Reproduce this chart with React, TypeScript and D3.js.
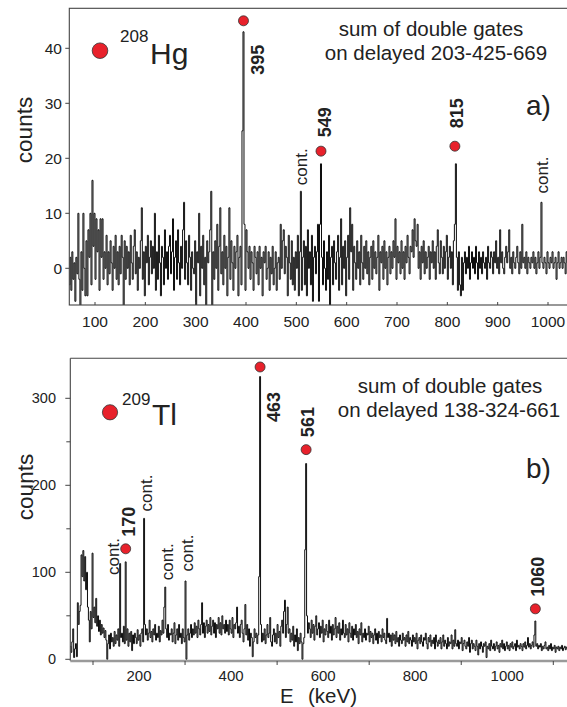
import React from 'react';
import * as d3 from 'd3';

// spectrum a) 208Hg, 2 keV bins starting at 48 keV (rows of 10 bins = 20 keV)
const A_START = 48;
const A_BIN = 2;
const countsA = [
	[-3, 2, -4, 3, -2, 1, -6, 2, -1, 10],
	[-2, -7, 3, -4, 10, 0, -5, 5, -5, 7],
	[2, 10, -3, 16, 4, 10, -2, 9, 3, 7],
	[-4, 9, 2, 9, -2, 3, 0, 6, -3, 3],
	[-1, 5, 1, -4, 4, 0, 6, -2, 3, -3],
	[4, -1, 6, 2, -7, 5, -2, 4, 0, 3],
	[-3, 6, 1, -2, 4, 7, -1, 3, -4, 2],
	[0, 5, 11, -2, 3, -5, 4, 1, 6, -3],
	[2, 5, -1, 4, 0, 10, -4, 3, -2, 6],
	[1, -5, 4, 2, -3, 7, 0, 3, -2, 4],
	[6, -1, 3, 9, -4, 2, 5, -2, 7, 1],
	[-3, 4, 0, 7, 12, -2, 5, 1, -3, 6],
	[2, -4, 3, 0, -1, 5, -7, 3, 1, 10],
	[-5, 4, 0, 6, -3, 2, -7, 5, 1, 3],
	[7, 14, -7, 3, -2, 5, 0, 8, -4, 4],
	[11, -1, 3, -3, 6, 0, 4, -5, 2, 11],
	[-2, 5, 1, -4, 4, 0, 3, 6, -5, 2],
	[4, -3, 25, 43, 8, -4, 7, 3, 0, 4],
	[-2, 3, 1, -4, 4, 2, -1, 3, -3, 4],
	[0, 2, -5, 3, 1, 4, -2, 0, 3, -4],
	[2, -1, 4, -3, 0, 3, -4, 1, 2, -2],
	[8, 0, 5, 7, -1, 4, 2, -5, 6, 1],
	[-2, 5, -3, 2, -4, 3, 0, 6, -5, 3],
	[14, -4, 2, 5, -3, 4, -5, 7, 0, 3],
	[-3, 6, -6, 2, 4, -1, 3, 8, -6, 8],
	[19, 2, -3, 5, 0, -4, 3, -2, 6, -7],
	[2, 4, -3, 5, 1, -2, 3, 6, -4, 2],
	[9, -3, 4, 0, 5, -5, 2, 6, -2, 11],
	[3, 8, -4, 4, 1, -2, 5, 0, 3, -3],
	[6, 1, -2, 4, 0, 5, -1, 3, -3, 2],
	[4, -2, 5, 0, 3, -1, 2, 6, -4, 3],
	[1, 4, -2, 5, 0, 3, -3, 2, 4, -1],
	[3, 0, 5, 2, 9, -2, 4, 1, 3, -1],
	[5, 0, 3, -2, 4, 1, 6, 2, -1, 4],
	[3, 7, 2, 9, 5, 4, 8, 0, 3, -2],
	[4, 1, 5, -1, 3, 0, 2, 4, -2, 3],
	[1, 5, 0, 3, -2, 4, 7, 1, -1, 5],
	[2, -1, 4, 0, 3, 6, -2, 2, 4, 0],
	[3, -3, 5, 8, 19, 2, -4, 3, -3, -5],
	[2, -4, 1, 3, -1, 2, 0, 4, -2, 1],
	[3, 0, 2, -1, 4, 1, -2, 3, 0, 2],
	[-1, 3, 1, 0, 2, -2, 4, 1, 0, 3],
	[2, -1, 3, 1, 5, 0, 2, -1, 7, 1],
	[3, 0, -1, 2, 4, 1, 3, 7, 0, 2],
	[-1, 3, 1, 0, 2, 4, 1, -1, 3, 0],
	[8, 1, 2, 0, 3, -1, 2, 1, 0, 2],
	[1, 3, 0, 2, -1, 1, 3, 0, 2, 12],
	[1, 0, 2, 1, -1, 3, 1, 0, 2, 1],
	[3, 0, 1, 2, -2, 1, 3, 0, 1, 2],
	[0, 2, 1, -1, 3, 1, 2, 0],
];

// spectrum b) 209Tl, 2 keV bins starting at 50 keV
const B_START = 50;
const B_BIN = 2;
const countsB = [
	[15, 8, 20, 35, 2, 12, 18, 3, 65, 40],
	[55, 62, 120, 95, 125, 90, 118, 80, 100, 60],
	[45, 20, 55, 35, 122, 48, 60, 42, 70, 38],
	[50, 32, 45, 28, 40, 30, 36, 25, 33, 22],
	[0, 18, 28, 12, 30, 20, 25, 15, 32, 18],
	[28, 22, 35, 15, 110, 25, 30, 20, 38, 18],
	[112, 22, 35, 15, 30, 20, 32, 10, 28, 18],
	[30, 25, 18, 34, 22, 28, 15, 30, 35, 20],
	[162, 40, 28, 35, 22, 30, 45, 25, 32, 20],
	[35, 28, 40, 22, 30, 25, 38, 20, 33, 28],
	[45, 30, 60, 83, 35, 25, 40, 22, 30, 28],
	[35, 20, 30, 42, 18, 28, 35, 22, 40, 25],
	[30, 18, 35, 25, 20, 90, 0, 28, 35, 22],
	[30, 40, 25, 35, 28, 42, 30, 38, 25, 45],
	[35, 28, 40, 65, 30, 42, 25, 38, 45, 30],
	[40, 32, 48, 28, 38, 45, 30, 42, 25, 40],
	[35, 48, 30, 42, 28, 50, 35, 40, 30, 45],
	[32, 40, 28, 45, 35, 30, 48, 25, 40, 35],
	[42, 60, 30, 38, 25, 40, 45, 30, 20, 35],
	[63, 28, 40, 22, 35, 15, 30, 25, 3, 20],
	[35, 25, 30, 18, 28, 95, 325, 40, 20, 30],
	[22, 35, 18, 28, 40, 25, 30, 48, 20, 15],
	[28, 35, 20, 30, 18, 40, 25, 32, 15, 38],
	[45, 30, 55, 68, 25, 40, 60, 30, 35, 20],
	[30, 22, 38, 15, 28, 20, 35, 10, 25, 18],
	[30, 20, 0, 18, 25, 126, 225, 50, 30, 42],
	[35, 25, 45, 30, 40, 22, 38, 50, 28, 35],
	[42, 25, 38, 30, 45, 20, 35, 28, 40, 32],
	[25, 45, 30, 38, 22, 40, 28, 35, 48, 25],
	[38, 30, 42, 22, 35, 28, 45, 30, 25, 40],
	[28, 35, 20, 42, 30, 25, 38, 22, 35, 28],
	[40, 25, 32, 18, 35, 28, 42, 20, 30, 25],
	[35, 22, 30, 28, 38, 20, 32, 25, 30, 18],
	[28, 35, 22, 30, 18, 32, 25, 28, 20, 35],
	[25, 30, 22, 18, 47, 25, 30, 20, 28, 15],
	[30, 22, 28, 18, 32, 20, 25, 15, 28, 22],
	[18, 30, 22, 25, 15, 28, 20, 32, 18, 25],
	[22, 15, 28, 20, 25, 18, 30, 12, 22, 25],
	[18, 28, 20, 15, 25, 22, 30, 18, 12, 25],
	[20, 28, 15, 22, 18, 25, 12, 28, 20, 15],
	[22, 18, 25, 12, 20, 28, 15, 22, 18, 12],
	[25, 15, 20, 18, 28, 12, 22, 15, 34, 18],
	[15, 22, 12, 20, 18, 25, 10, 18, 22, 15],
	[12, 20, 15, 25, 8, 18, 22, 12, 18, 15],
	[10, 22, 15, 5, 18, 12, 20, 15, 8, 18],
	[15, 20, 2, 15, 12, 18, 10, 22, 15, 12],
	[18, 10, 15, 20, 12, 16, 8, 18, 14, 22],
	[12, 18, 10, 15, 20, 12, 16, 10, 18, 14],
	[20, 12, 15, 18, 10, 22, 14, 16, 12, 18],
	[15, 10, 18, 14, 20, 12, 16, 25, 14, 18],
	[12, 16, 20, 14, 28, 44, 15, 18, 12, 16],
	[14, 18, 10, 15, 12, 16, 20, 12, 14, 10],
	[16, 12, 18, 10, 14, 12, 16, 8, 14, 12],
	[15, 10, 14, 12, 16, 10, 13, 15, 11, 14],
	[12, 14, 10],
];

// marked transitions (red dots) and contaminants
const peaksA = [
	{ e: 395, dot: 45, label: '395', dx: 21, dy: 54 },
	{ e: 549, dot: 21.3, label: '549', dx: 10, dy: -14 },
	{ e: 815, dot: 22.2, label: '815', dx: 8, dy: -18 },
];
const contA = [
	{ e: 509, at: 15.1, dx: 6 },
	{ e: 987, at: 13.6, dx: 7 },
];
const peaksB = [
	{ e: 171, dot: 127, label: '170', dx: 9, dy: -12 },
	{ e: 463, dot: 336, label: '463', dx: 20, dy: 55 },
	{ e: 563, dot: 241, label: '561', dx: 8, dy: -12.5 },
	{ e: 1061, dot: 58, label: '1060', dx: 8.5, dy: -12 },
];
const contB = [
	{ e: 159, at: 97, dx: -1 },
	{ e: 211, at: 170, dx: 8 },
	{ e: 257, at: 91, dx: 8 },
	{ e: 301, at: 101, dx: 7 },
];

const ticksAx = [100, 200, 300, 400, 500, 600, 700, 800, 900, 1000];
const ticksAy = [0, 10, 20, 30, 40];
const ticksBxLabel = [200, 400, 600, 800, 1000];
const ticksBxMinor = [100, 300, 500, 700, 900, 1100];
const ticksBy = [0, 100, 200, 300];
const ticksByMinor = [50, 150, 250];

const FONT = '"Liberation Sans", Arial, Helvetica, sans-serif';
const RED = '#e8212b';
const INK = '#222';

function histPoints(rows: number[][], start: number, bin: number): [number, number][] {
	const flat = rows.flat();
	const pts: [number, number][] = flat.map((v, i) => [start + i * bin, v]);
	pts.push([start + flat.length * bin, flat[flat.length - 1]]);
	return pts;
}

function Rot({ x, y, text, size, bold }: { x: number; y: number; text: string; size: number; bold?: boolean }) {
	return (
		<text
			transform={`translate(${x},${y}) rotate(-90)`}
			fontSize={size}
			fontWeight={bold ? 'bold' : 'normal'}
			fill={INK}
		>
			{text}
		</text>
	);
}

export default function App() {
	// panel a
	const xA = d3.scaleLinear().domain([100, 1000]).range([95, 548]);
	const yA = d3.scaleLinear().domain([0, 40]).range([268.3, 48.3]);
	const boxA = { l: 69.3, t: 8.3, r: 600, b: 305 };
	// panel b
	const xB = d3.scaleLinear().domain([100, 1100]).range([93, 553.3]);
	const yB = d3.scaleLinear().domain([0, 300]).range([659.3, 398.3]);
	const boxB = { l: 70.3, t: 358.3, r: 600, b: 661 };

	const lineA = d3
		.line<[number, number]>()
		.x(d => xA(d[0]))
		.y(d => yA(d[1]))
		.curve(d3.curveStepAfter);
	const lineB = d3
		.line<[number, number]>()
		.x(d => xB(d[0]))
		.y(d => yB(d[1]))
		.curve(d3.curveStepAfter);

	const pathA = lineA(histPoints(countsA, A_START, A_BIN)) || '';
	const pathB = lineB(histPoints(countsB, B_START, B_BIN)) || '';

	return (
		<svg
			width={567}
			height={707}
			style={{ position: 'absolute', left: 0, top: 0, background: '#fff' }}
			fontFamily={FONT}
		>
			<defs>
				<clipPath id="clipA">
					<rect x={boxA.l} y={boxA.t} width={boxA.r - boxA.l} height={boxA.b - boxA.t} />
				</clipPath>
				<clipPath id="clipB">
					<rect x={boxB.l} y={boxB.t} width={boxB.r - boxB.l} height={boxB.b - boxB.t} />
				</clipPath>
			</defs>

			{/* ---------- panel a ---------- */}
			<path d={pathA} fill="none" stroke="#0d0d0d" strokeWidth={1} clipPath="url(#clipA)" />
			<rect
				x={boxA.l}
				y={boxA.t}
				width={boxA.r - boxA.l}
				height={boxA.b - boxA.t}
				fill="none"
				stroke="#444"
				strokeWidth={1.1}
			/>
			{ticksAy.map(t => (
				<g key={'ay' + t}>
					<line x1={boxA.l - 4} x2={boxA.l} y1={yA(t)} y2={yA(t)} stroke="#444" />
					<text x={62} y={yA(t) + 5.5} fontSize={15.5} textAnchor="end" fill={INK}>
						{t}
					</text>
				</g>
			))}
			{ticksAx.map(t => (
				<g key={'ax' + t}>
					<line x1={xA(t)} x2={xA(t)} y1={boxA.b} y2={boxA.b - 3} stroke="#444" />
					<text x={xA(t)} y={327} fontSize={15.5} textAnchor="middle" fill={INK}>
						{t}
					</text>
				</g>
			))}
			<text transform="translate(32,130) rotate(-90)" fontSize={22.5} textAnchor="middle" fill={INK}>
				counts
			</text>
			<text x={431} y={36} fontSize={20.5} textAnchor="middle" fill={INK}>
				sum of double gates
			</text>
			<text x={436} y={60} fontSize={20.5} textAnchor="middle" fill={INK}>
				on delayed 203-425-669
			</text>
			<text x={526} y={115} fontSize={28} fill={INK}>
				a)
			</text>
			<circle cx={100} cy={50.7} r={7.8} fill={RED} stroke="#333" strokeWidth={0.8} />
			<text x={120} y={41.5} fontSize={17} fill={INK}>
				208
			</text>
			<text x={150} y={63.5} fontSize={30} fill={INK}>
				Hg
			</text>
			{peaksA.map(p => (
				<g key={'pa' + p.label}>
					<circle cx={xA(p.e)} cy={yA(p.dot)} r={5} fill={RED} stroke="#333" strokeWidth={0.8} />
					<Rot x={xA(p.e) + p.dx} y={yA(p.dot) + p.dy} text={p.label} size={18} bold />
				</g>
			))}
			{contA.map(c => (
				<Rot key={'ca' + c.e} x={xA(c.e) + c.dx} y={yA(c.at)} text="cont." size={17} />
			))}

			{/* ---------- panel b ---------- */}
			<path d={pathB} fill="none" stroke="#0d0d0d" strokeWidth={1} clipPath="url(#clipB)" />
			<line x1={boxB.l} x2={boxB.r} y1={boxB.t} y2={boxB.t} stroke="#444" strokeWidth={1.1} />
			<line x1={boxB.l} x2={boxB.l} y1={boxB.t} y2={boxB.b} stroke="#444" strokeWidth={1.1} />
			<line x1={boxB.l} x2={boxB.r} y1={boxB.b} y2={boxB.b} stroke="#9a9a9a" strokeWidth={2.4} />
			{ticksBy.map(t => (
				<g key={'by' + t}>
					<line x1={boxB.l - 5} x2={boxB.l} y1={yB(t)} y2={yB(t)} stroke="#444" />
					<text x={56} y={yB(t) + 5} fontSize={14.5} textAnchor="end" fill={INK}>
						{t}
					</text>
				</g>
			))}
			{ticksByMinor.map(t => (
				<line key={'bym' + t} x1={boxB.l - 4} x2={boxB.l} y1={yB(t)} y2={yB(t)} stroke="#444" />
			))}
			{ticksBxMinor.map(t => (
				<line key={'bxm' + t} x1={xB(t)} x2={xB(t)} y1={boxB.b} y2={boxB.b + 4} stroke="#444" />
			))}
			{ticksBxLabel.map(t => (
				<text key={'bx' + t} x={xB(t)} y={680.5} fontSize={15} textAnchor="middle" fill={INK}>
					{t}
				</text>
			))}
			<text transform="translate(33,487) rotate(-90)" fontSize={22.5} textAnchor="middle" fill={INK}>
				counts
			</text>
			<text x={280} y={703} fontSize={20.5} fill={INK}>
				E
			</text>
			<text x={308} y={703} fontSize={20.5} fill={INK}>
				(keV)
			</text>
			<text x={450} y={393} fontSize={20.5} textAnchor="middle" fill={INK}>
				sum of double gates
			</text>
			<text x={449} y={417} fontSize={20.5} textAnchor="middle" fill={INK}>
				on delayed 138-324-661
			</text>
			<text x={526} y={478} fontSize={28} fill={INK}>
				b)
			</text>
			<circle cx={110} cy={412.3} r={7.6} fill={RED} stroke="#333" strokeWidth={0.8} />
			<text x={122} y={405} fontSize={17} fill={INK}>
				209
			</text>
			<text x={152} y={425} fontSize={30} fill={INK}>
				Tl
			</text>
			{peaksB.map(p => (
				<g key={'pb' + p.label}>
					<circle cx={xB(p.e)} cy={yB(p.dot)} r={5} fill={RED} stroke="#333" strokeWidth={0.8} />
					<Rot x={xB(p.e) + p.dx} y={yB(p.dot) + p.dy} text={p.label} size={18} bold />
				</g>
			))}
			{contB.map(c => (
				<Rot key={'cb' + c.e} x={xB(c.e) + c.dx} y={yB(c.at)} text="cont." size={17} />
			))}
		</svg>
	);
}
